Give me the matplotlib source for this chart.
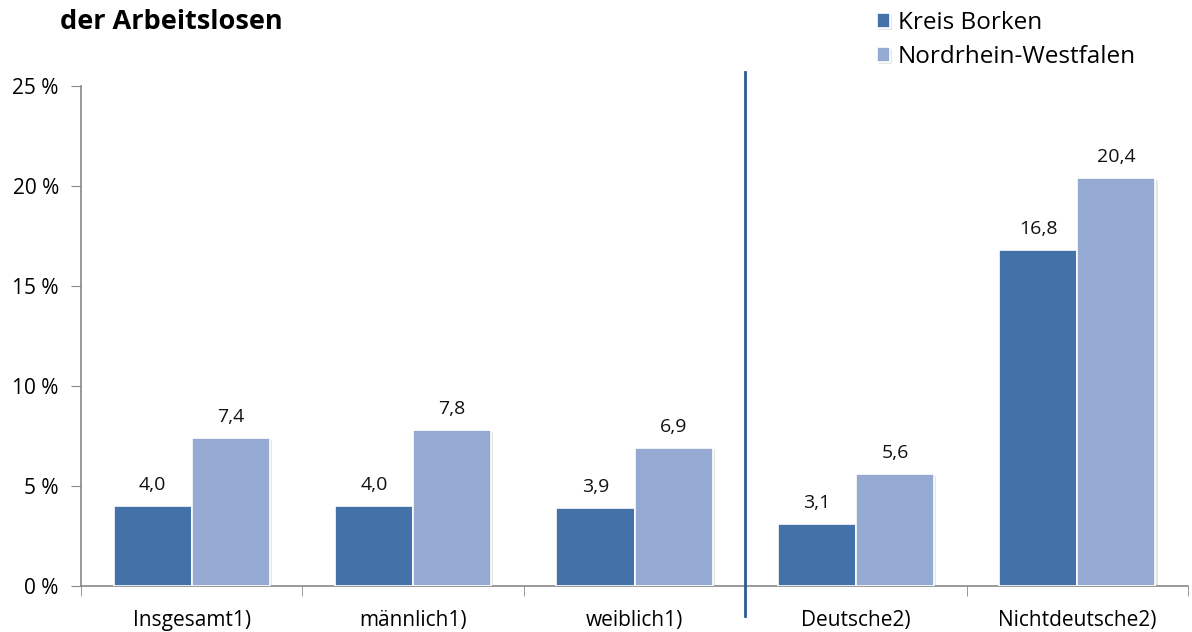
import matplotlib
matplotlib.use("Agg")
import matplotlib.pyplot as plt
import matplotlib.patheffects as pe
import numpy as np

categories = ["Insgesamt1)", "männlich1)", "weiblich1)", "Deutsche2)", "Nichtdeutsche2)"]
kreis_borken = [4.0, 4.0, 3.9, 3.1, 16.8]
nrw = [7.4, 7.8, 6.9, 5.6, 20.4]
series_names = ["Kreis Borken", "Nordrhein-Westfalen"]
yticks = [0, 5, 10, 15, 20, 25]
title = "der Arbeitslosen"

plt.rcParams['font.family'] = ['Open Sans', 'DejaVu Sans']

fig = plt.figure(figsize=(11.92, 6.32), dpi=100)
ax = fig.add_axes([81/1192, 1-586/632, (1188-81)/1192, 500/632])

c1 = "#4472A8"
c2 = "#95AAD2"
x = np.arange(len(categories))
w = 0.353
shadow = [pe.SimplePatchShadow(offset=(1.5, -1.5), alpha=0.25, shadow_rgbFace="#999999"), pe.Normal()]
b1 = ax.bar(x - w/2, kreis_borken, w, color=c1, edgecolor="white", linewidth=1.2, label=series_names[0], zorder=3)
b2 = ax.bar(x + w/2, nrw, w, color=c2, edgecolor="white", linewidth=1.2, label=series_names[1], zorder=3)
for b in list(b1) + list(b2):
    b.set_path_effects(shadow)

for xi, v in zip(x - w/2, kreis_borken):
    ax.annotate(f"{v:.1f}".replace(".", ","), (xi, v), xytext=(0, 9), textcoords="offset points",
                ha="center", va="bottom", fontsize=14, color="#111111")
for xi, v in zip(x + w/2, nrw):
    ax.annotate(f"{v:.1f}".replace(".", ","), (xi, v), xytext=(0, 9), textcoords="offset points",
                ha="center", va="bottom", fontsize=14, color="#111111")

ax.set_xlim(-0.5, len(categories) - 0.5)
ax.set_ylim(0, 25)
ax.set_yticks(yticks)
ax.set_yticklabels([f"{t} %" for t in yticks], fontsize=15)
ax.set_xticks(x)
ax.set_xticklabels(categories, fontsize=15)
ax.tick_params(axis='x', length=0, pad=17)
ax.set_xticks(np.arange(-0.5, len(categories)), minor=True)
ax.tick_params(axis='x', which='minor', length=7, color="#888888", direction="out")
ax.tick_params(axis='y', length=7, color="#888888", direction="out", pad=9)
for s in ["top", "right"]:
    ax.spines[s].set_visible(False)
for s in ["left", "bottom"]:
    ax.spines[s].set_color("#888888")
    ax.spines[s].set_linewidth(1.2)

# separator line between groups
ax.plot([2.5, 2.5], [-1.5, 25.7], color="#2E5C8F", linewidth=2, clip_on=False, zorder=4,
        transform=ax.transData)

fig.text(60/1192, 1-22/632, title, fontsize=19.5, fontweight="bold", ha="left", va="center")

leg = fig.legend(handles=[b1, b2], labels=series_names, loc="upper left",
                 bbox_to_anchor=(855/1192, 1+11/632), frameon=False, fontsize=17.5,
                 handlelength=0.55, handleheight=0.55, handletextpad=0.3, labelspacing=0.42)

fig.savefig("out.png", dpi=100)
